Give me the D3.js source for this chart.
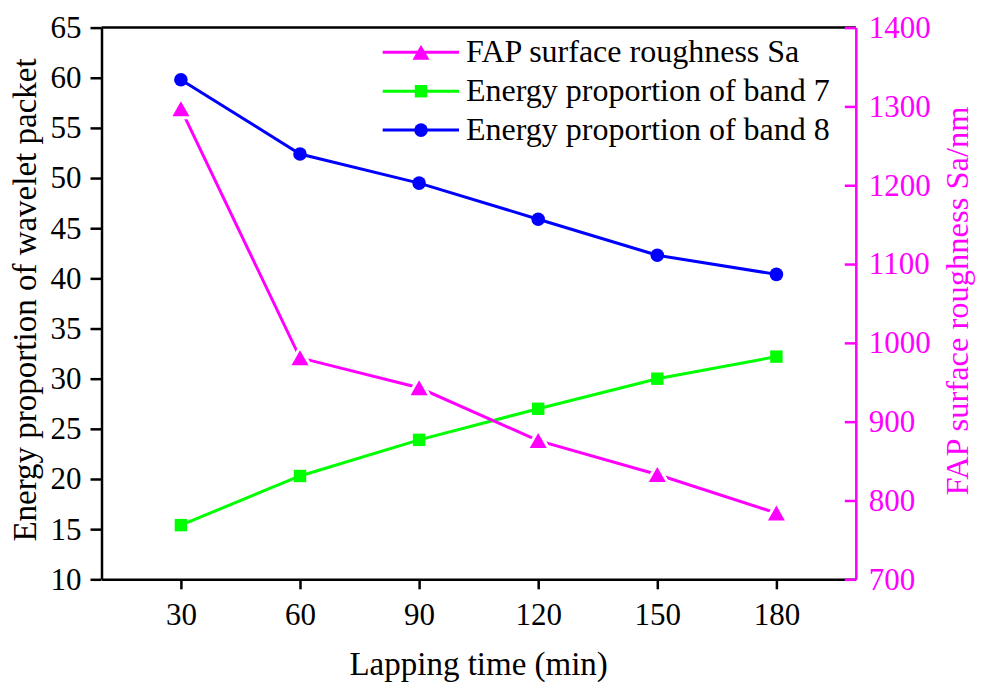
<!DOCTYPE html>
<html>
<head>
<meta charset="utf-8">
<script src="https://cdn.jsdelivr.net/npm/d3@7/dist/d3.min.js"></script>
<style>
  html, body { margin: 0; padding: 0; background: #fff; }
  svg, svg text { font-family: "Liberation Serif", "Times New Roman", serif; }
</style>
</head>
<body>
<svg id="chart" width="984" height="684"></svg>
<script>
// Lapping time (min)
const times = [30, 60, 90, 120, 150, 180];
// Energy proportion of wavelet packet (%)
const band7 = [15.4, 20.3, 23.9, 27.0, 30.0, 32.2];
const band8 = [59.8, 52.4, 49.5, 45.9, 42.3, 40.4];
// FAP surface roughness Sa (nm)
const sa = [1297, 981, 943, 876, 833, 784];

const xTicks = [30, 60, 90, 120, 150, 180];
const yLeftTicks = [10, 15, 20, 25, 30, 35, 40, 45, 50, 55, 60, 65];
const yRightTicks = [700, 800, 900, 1000, 1100, 1200, 1300, 1400];

const legendLabels = ["FAP surface roughness Sa", "Energy proportion of band 7", "Energy proportion of band 8"];

const MAGENTA = "#ff00ff", GREEN = "#00ff00", BLUE = "#0000ff";
const SERIF = "'Liberation Serif', 'Times New Roman', serif";

const svg = d3.select("#chart");
const plotLeft = 101.5, plotRight = 855.8, plotTop = 27.6, plotBottom = 579.3;

const x = d3.scaleLinear().domain([10, 200]).range([plotLeft, plotRight]);
const yL = d3.scaleLinear().domain([10, 65]).range([plotBottom, plotTop]);
const yR = d3.scaleLinear().domain([700, 1400]).range([plotBottom, plotTop]);

const tickFont = 31, titleFont = 33, legendFont = 32;

function styleAxis(g, color) {
  g.attr("font-family", SERIF).style("font-family", SERIF).attr("font-size", tickFont);
  g.select(".domain").attr("stroke", color).attr("stroke-width", 2.5);
  g.selectAll(".tick line").attr("stroke", color).attr("stroke-width", 2.5);
  g.selectAll(".tick text").attr("fill", color).style("font-family", SERIF).attr("font-size", tickFont);
}

// top frame line
svg.append("line")
  .attr("x1", plotLeft).attr("x2", plotRight).attr("y1", plotTop).attr("y2", plotTop)
  .attr("stroke", "#000").attr("stroke-width", 2.5);

// bottom axis
const gx = svg.append("g").attr("transform", `translate(0,${plotBottom})`)
  .call(d3.axisBottom(x).tickValues(xTicks).tickFormat(d3.format("d"))
    .tickSize(10).tickPadding(14).tickSizeOuter(0));
styleAxis(gx, "#000");

// left axis
const gl = svg.append("g").attr("transform", `translate(${plotLeft},0)`)
  .call(d3.axisLeft(yL).tickValues(yLeftTicks).tickFormat(d3.format("d"))
    .tickSize(11).tickPadding(9).tickSizeOuter(0));
styleAxis(gl, "#000");

// right axis (ticks point inward)
const gr = svg.append("g").attr("transform", `translate(${plotRight},0)`)
  .call(d3.axisRight(yR).tickValues(yRightTicks).tickFormat(d3.format("d"))
    .tickSize(-11).tickPadding(13).tickSizeOuter(0));
styleAxis(gr, MAGENTA);
gr.selectAll(".tick text").attr("x", 13);

// axis titles
svg.append("text")
  .attr("x", (plotLeft + plotRight) / 2).attr("y", 675)
  .attr("text-anchor", "middle").attr("font-size", titleFont).attr("fill", "#000")
  .text("Lapping time (min)");

svg.append("text")
  .attr("transform", "translate(36,300) rotate(-90)")
  .attr("text-anchor", "middle").attr("font-size", titleFont).attr("fill", "#000")
  .text("Energy proportion of wavelet packet");

svg.append("text")
  .attr("transform", "translate(968,301) rotate(-90)")
  .attr("text-anchor", "middle").attr("font-size", 32.5).attr("fill", MAGENTA)
  .text("FAP surface roughness Sa/nm");

// markers
const triPath = "M0,-7.5L8.5,7.5L-8.5,7.5Z";
function drawMarker(g, kind, color) {
  if (kind === "circle") {
    g.append("circle").attr("r", 6.8).attr("fill", color);
  } else if (kind === "square") {
    g.append("rect").attr("x", -6.2).attr("y", -6.2).attr("width", 12.4).attr("height", 12.4).attr("fill", color);
  } else {
    g.append("path").attr("d", triPath).attr("fill", color)
      .attr("stroke", "#fff").attr("stroke-width", 6).attr("paint-order", "stroke").attr("stroke-linejoin", "round");
  }
}

const series = [
  { vals: band7, y: yL, color: GREEN, kind: "square" },
  { vals: band8, y: yL, color: BLUE, kind: "circle" },
  { vals: sa, y: yR, color: MAGENTA, kind: "triangle" }
];

series.forEach(s => {
  const pts = times.map((t, i) => [x(t), s.y(s.vals[i])]);
  svg.append("path")
    .attr("d", d3.line()(pts))
    .attr("fill", "none").attr("stroke", s.color).attr("stroke-width", 3);
  pts.forEach(p => {
    const g = svg.append("g").attr("transform", `translate(${p[0]},${p[1]})`);
    drawMarker(g, s.kind, s.color);
  });
});

// legend
const legendItems = [
  { label: legendLabels[0], color: MAGENTA, kind: "triangle" },
  { label: legendLabels[1], color: GREEN, kind: "square" },
  { label: legendLabels[2], color: BLUE, kind: "circle" }
];
const lg = svg.append("g");
legendItems.forEach((d, i) => {
  const cy = 52.3 + i * 38.9;
  lg.append("line").attr("x1", 382.7).attr("x2", 459).attr("y1", cy).attr("y2", cy)
    .attr("stroke", d.color).attr("stroke-width", 3);
  const g = lg.append("g").attr("transform", `translate(421,${cy})`);
  if (d.kind === "triangle") {
    g.append("path").attr("d", triPath).attr("fill", d.color);
  } else {
    drawMarker(g, d.kind, d.color);
  }
  lg.append("text").attr("x", 466).attr("y", cy + 10)
    .attr("font-size", legendFont).attr("fill", "#000").text(d.label);
});
</script>
</body>
</html>
